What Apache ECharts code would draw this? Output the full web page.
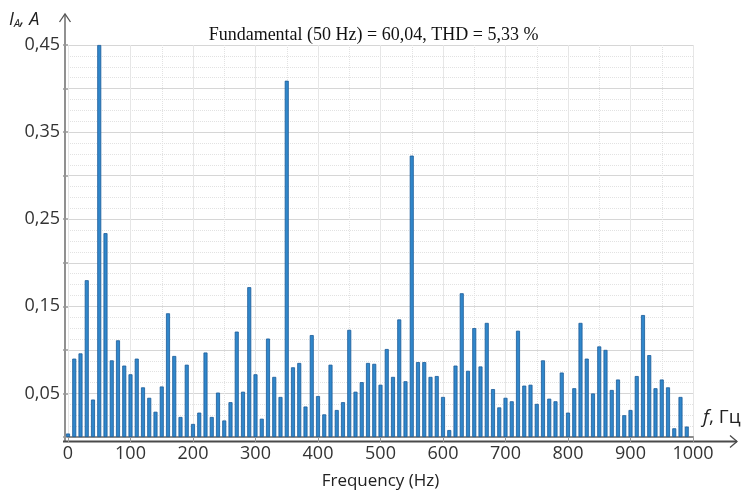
<!DOCTYPE html>
<html>
<head>
<meta charset="utf-8">
<script src="https://cdn.jsdelivr.net/npm/echarts@6.0.0/dist/echarts.min.js"></script>
<style>
    html, body { margin: 0; padding: 0; background: #fff; }
    #main { width: 747px; height: 495px; }
</style>
</head>
<body>
<div id="main"></div>
<script>
// harmonic frequencies, Hz
var freqs = [
    0, 10, 20, 30, 40, 50, 60, 70, 80, 90,
    100, 110, 120, 130, 140, 150, 160, 170, 180, 190,
    200, 210, 220, 230, 240, 250, 260, 270, 280, 290,
    300, 310, 320, 330, 340, 350, 360, 370, 380, 390,
    400, 410, 420, 430, 440, 450, 460, 470, 480, 490,
    500, 510, 520, 530, 540, 550, 560, 570, 580, 590,
    600, 610, 620, 630, 640, 650, 660, 670, 680, 690,
    700, 710, 720, 730, 740, 750, 760, 770, 780, 790,
    800, 810, 820, 830, 840, 850, 860, 870, 880, 890,
    900, 910, 920, 930, 940, 950, 960, 970, 980, 990
];
// current amplitude, A
var amps = [
    0.004, 0.090, 0.096, 0.180, 0.043, 0.450, 0.234, 0.088, 0.111, 0.082,
    0.072, 0.090, 0.057, 0.045, 0.029, 0.058, 0.142, 0.093, 0.023, 0.083,
    0.015, 0.028, 0.097, 0.023, 0.051, 0.019, 0.040, 0.121, 0.052, 0.172,
    0.072, 0.021, 0.113, 0.069, 0.046, 0.409, 0.080, 0.085, 0.035, 0.117,
    0.047, 0.026, 0.083, 0.031, 0.040, 0.123, 0.052, 0.063, 0.085, 0.084,
    0.060, 0.101, 0.069, 0.135, 0.064, 0.323, 0.086, 0.086, 0.069, 0.070,
    0.046, 0.008, 0.082, 0.165, 0.076, 0.125, 0.081, 0.131, 0.055, 0.034,
    0.045, 0.041, 0.122, 0.059, 0.060, 0.038, 0.088, 0.044, 0.041, 0.074,
    0.028, 0.056, 0.131, 0.090, 0.050, 0.104, 0.100, 0.054, 0.066, 0.025,
    0.031, 0.070, 0.140, 0.094, 0.056, 0.066, 0.057, 0.010, 0.046, 0.012
];
var titleText = 'Fundamental (50 Hz) = 60,04, THD = 5,33 %';

var chartDom = document.getElementById('main');
var myChart = echarts.init(chartDom);
var option;

var barData = [];
for (var i = 0; i < freqs.length; i++) {
    barData.push([freqs[i], amps[i]]);
}

var labelFont = '"Open Sans", sans-serif';

option = {
    animation: false,
    title: {
        text: titleText,
        left: 'center',
        top: 21,
        textStyle: {
            fontFamily: '"Liberation Serif", serif',
            fontSize: 18,
            fontWeight: 'normal',
            color: '#111'
        }
    },
    grid: {
        left: 68,
        right: 54,
        top: 45,
        bottom: 54
    },
    xAxis: [
        {
            type: 'value',
            min: 0,
            max: 1000,
            interval: 100,
            position: 'bottom',
            name: 'Frequency (Hz)',
            nameLocation: 'middle',
            nameGap: 36,
            nameTextStyle: {
                fontFamily: labelFont,
                fontSize: 17,
                color: '#222'
            },
            axisLine: {show: false},
            axisTick: {show: false},
            axisLabel: {
                fontFamily: labelFont,
                fontSize: 18,
                color: '#333',
                margin: 8,
                formatter: function (v) {
                    return String(v);
                }
            },
            splitLine: {
                show: true,
                lineStyle: {color: '#e6e6e6', width: 1}
            },
            minorTick: {show: false, splitNumber: 2},
            minorSplitLine: {
                show: true,
                lineStyle: {color: '#e2e2e2', type: 'dotted'}
            }
        },
        {
            // top border with small ticks
            type: 'value',
            min: 0,
            max: 1000,
            interval: 100,
            position: 'top',
            axisLine: {show: true, lineStyle: {color: '#8c8c8c', width: 2}},
            axisTick: {show: true, inside: true, length: 5, lineStyle: {color: '#999'}},
            axisLabel: {show: false},
            splitLine: {show: false}
        }
    ],
    yAxis: [
        {
            type: 'value',
            min: 0,
            max: 0.45,
            interval: 0.05,
            offset: 3,
            axisLine: {show: false},
            axisTick: {show: false},
            axisLabel: {
                fontFamily: labelFont,
                fontSize: 18,
                color: '#333',
                margin: 5,
                formatter: function (v) {
                    var n = Math.round(v * 100);
                    if (n % 10 !== 5) return '';
                    return (n / 100).toFixed(2).replace('.', ',');
                }
            },
            splitLine: {
                show: true,
                lineStyle: {color: '#d6d6d6', width: 1}
            },
            minorTick: {show: false, splitNumber: 4},
            minorSplitLine: {
                show: true,
                lineStyle: {color: '#e2e2e2', type: 'dotted'}
            }
        },
        {
            // little ticks on the right side
            type: 'value',
            min: 0,
            max: 0.45,
            interval: 0.05,
            position: 'right',
            axisLine: {show: false},
            axisTick: {show: true, inside: true, length: 5, lineStyle: {color: '#999', width: 1.5}},
            axisLabel: {show: false},
            splitLine: {show: false}
        }
    ],
    graphic: [
        // y axis with arrow
        {type: 'polyline', shape: {points: [[65, 442], [65, 14]]}, style: {stroke: '#555', lineWidth: 1.3}},
        {type: 'polyline', shape: {points: [[59.5, 22], [65, 14], [70.5, 22]]}, style: {stroke: '#555', lineWidth: 1.3, fill: null}},
        // x axis with arrow
        {type: 'polyline', shape: {points: [[63, 441.5], [737, 441.5]]}, style: {stroke: '#4a4a4a', lineWidth: 1.8}},
        {type: 'polyline', shape: {points: [[730, 435.5], [737, 441.5], [730, 447.5]]}, style: {stroke: '#4a4a4a', lineWidth: 1.3, fill: null}},
        {
            type: 'text',
            left: 9,
            top: 11,
            style: {
                text: '{i|I}{s|A}{i|, A}',
                rich: {
                    i: {fontFamily: labelFont, fontStyle: 'italic', fontSize: 18, fill: '#222'},
                    s: {fontFamily: labelFont, fontStyle: 'italic', fontSize: 11, fill: '#222', padding: [8, 0, 0, 0]}
                }
            }
        },
        {
            type: 'text',
            left: 703,
            top: 408,
            style: {
                text: '{i|f}{n|, Гц}',
                rich: {
                    i: {fontFamily: labelFont, fontStyle: 'italic', fontSize: 19, fill: '#222'},
                    n: {fontFamily: labelFont, fontSize: 19, fill: '#222'}
                }
            }
        }
    ],
    series: [
        {
            type: 'bar',
            xAxisIndex: 0,
            yAxisIndex: 0,
            barWidth: 4,
            itemStyle: {
                color: '#3087cb',
                borderColor: '#1b5b98',
                borderWidth: 0.8
            },
            data: barData
        }
    ]
};

option && myChart.setOption(option);
</script>
</body>
</html>
